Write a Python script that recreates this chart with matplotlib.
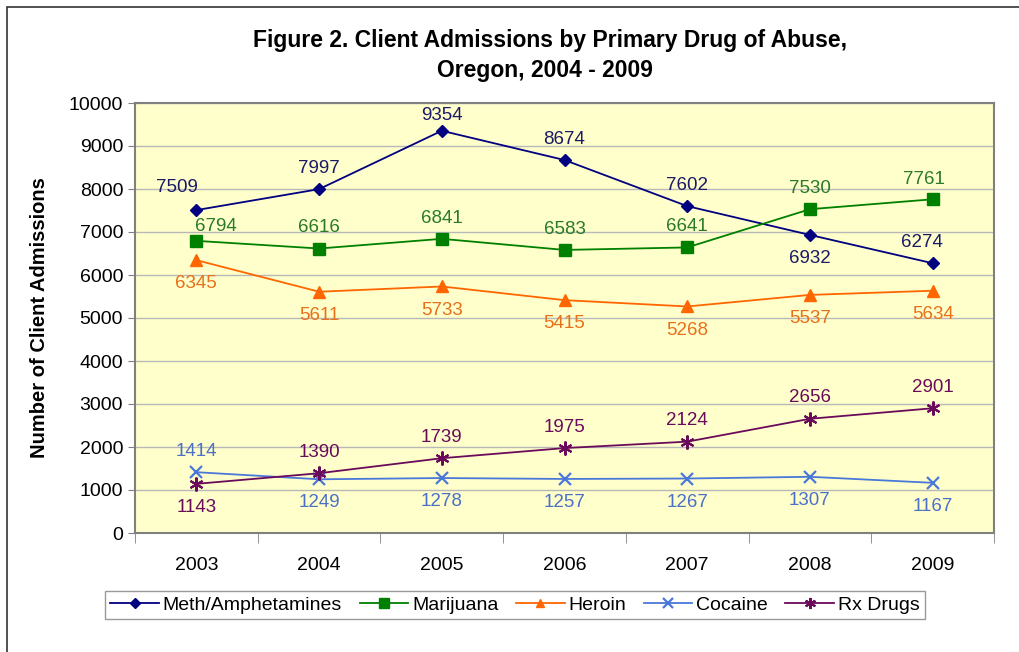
import matplotlib
matplotlib.use("Agg")
import matplotlib.pyplot as plt
from matplotlib.patches import Rectangle

plt.rcParams['font.family'] = ['Liberation Sans', 'DejaVu Sans']

# ---- data ----
years = ["2003", "2004", "2005", "2006", "2007", "2008", "2009"]
meth = [7509, 7997, 9354, 8674, 7602, 6932, 6274]
marijuana = [6794, 6616, 6841, 6583, 6641, 7530, 7761]
heroin = [6345, 5611, 5733, 5415, 5268, 5537, 5634]
cocaine = [1414, 1249, 1278, 1257, 1267, 1307, 1167]
rx_drugs = [1143, 1390, 1739, 1975, 2124, 2656, 2901]

# label placement: +1 above the point, -1 below
meth_pos = [1, 1, 1, 1, 1, -1, 1]
marijuana_pos = [1, 1, 1, 1, 1, 1, 1]
heroin_pos = [-1, -1, -1, -1, -1, -1, -1]
cocaine_pos = [1, -1, -1, -1, -1, -1, -1]
rx_pos = [-1, 1, 1, 1, 1, 1, 1]

# small manual nudges (points) for crowded labels: (series, index) -> (dx, dy)
nudges = {("Meth/Amphetamines", 0): (-14, 16),
          ("Meth/Amphetamines", 2): (0, 11),
          ("Meth/Amphetamines", 6): (-8, 15),
          ("Marijuana", 0): (14, 10),
          ("Marijuana", 6): (-6, 14)}

series = [
    ("Meth/Amphetamines", meth, meth_pos, "#000080", "#1a1a66", dict(marker="D", ms=6)),
    ("Marijuana", marijuana, marijuana_pos, "#008000", "#2a7a2a", dict(marker="s", ms=9)),
    ("Heroin", heroin, heroin_pos, "#ff6600", "#e8701a", dict(marker="^", ms=8)),
    ("Cocaine", cocaine, cocaine_pos, "#4a78d8", "#4a70c8", dict(marker="x", ms=9, mew=1.6)),
    ("Rx Drugs", rx_drugs, rx_pos, "#6a0a5a", "#6a0a5a", dict(marker=(6, 2, 0), ms=10, mew=1.5)),
]

fig = plt.figure(figsize=(10.19, 6.52), dpi=100)
fig.patches.append(Rectangle((7 / 1019, -0.1), 1.2, 1 - 7 / 652 + 0.1,
                             transform=fig.transFigure, fill=False,
                             edgecolor="#333333", linewidth=1.2))

ax = fig.add_axes([135 / 1019, 1 - 533 / 652, (994 - 135) / 1019, (533 - 103) / 652])
ax.set_facecolor("#ffffcc")

x = list(range(len(years)))
for name, vals, pos, color, tcolor, mk in series:
    ax.plot(x, vals, color=color, lw=1.3, label=name, **mk)
    for xi, v, p in zip(x, vals, pos):
        dx, dy = nudges.get((name, xi), (0, 15 if p > 0 else -17))
        ax.annotate(str(v), (xi, v), xytext=(dx, dy), textcoords="offset points",
                    ha="center", va="center", fontsize=13.5, color=tcolor)

ax.set_xlim(-0.5, len(years) - 0.5)
ax.set_ylim(0, 10000)
ax.set_yticks(range(0, 10001, 1000))
ax.yaxis.grid(True, color="#b8b8b8", lw=1)
ax.set_axisbelow(True)

ax.set_xticks(x)
ax.set_xticklabels(years, fontsize=14)
ax.tick_params(axis="x", length=0, pad=17)
ax.set_xticks([i - 0.5 for i in range(len(years) + 1)], minor=True)
ax.tick_params(axis="x", which="minor", length=7, color="#808080")
ax.tick_params(axis="y", labelsize=14, length=5, color="#808080")

for s in ax.spines.values():
    s.set_color("#808080")
    s.set_linewidth(1.5)

ax.set_ylabel("Number of Client Admissions", fontsize=14.5, fontweight="bold", labelpad=14)

fig.text(550 / 1019, 1 - 41 / 652, "Figure 2. Client Admissions by Primary Drug of Abuse,",
         ha="center", va="center", fontsize=16.5, fontweight="bold")
fig.text(545 / 1019, 1 - 71 / 652, "Oregon, 2004 - 2009",
         ha="center", va="center", fontsize=16.5, fontweight="bold")

leg = fig.legend(loc="center", bbox_to_anchor=(515 / 1019, 1 - 605 / 652), ncol=5,
                 fontsize=14, frameon=True, fancybox=False, handlelength=2.5,
                 handletextpad=0.2, columnspacing=0.9, borderpad=0.25, markerscale=0.8)
leg.get_frame().set_edgecolor("#808080")
leg.get_frame().set_linewidth(1)

fig.savefig("out.png", dpi=100)
